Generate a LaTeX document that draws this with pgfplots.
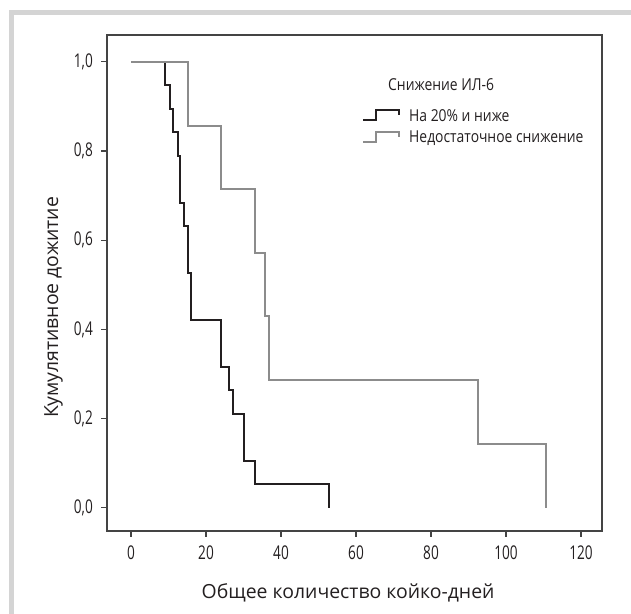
\documentclass[border=0pt]{standalone}
\usepackage{fontspec}
\setmainfont{Open Sans}
\newfontfamily\condfont{Open Sans}[FakeStretch=0.72]
\newfontfamily\legfont{Open Sans}[FakeStretch=0.845]
\usepackage{pgfplots}
\pgfplotsset{compat=1.18}
\definecolor{kmblack}{HTML}{231F20}
\definecolor{kmgray}{HTML}{8C8C8C}
\definecolor{axgray}{HTML}{444444}
\definecolor{framegray}{HTML}{D4D4D4}

\begin{document}
\begin{tikzpicture}
\useasboundingbox (0bp,0bp) rectangle (631bp,614bp);
% light frame on the left and top
\fill[framegray] (9bp,0bp) rectangle (14bp,604bp);
\fill[framegray] (9bp,599bp) rectangle (631bp,604bp);
\begin{axis}[
  at={(107bp,83bp)}, anchor=south west,
  scale only axis, width=495bp, height=496bp,
  xmin=-6.4, xmax=125.6, ymin=-0.052, ymax=1.06,
  xtick={0,20,40,60,80,100,120},
  ytick={0,0.2,0.4,0.6,0.8,1.0},
  axis line style={axgray, line width=1.2bp},
  tick style={axgray, line width=1.2bp},
  tick align=outside, tick pos=left,
  major tick length=6bp,
  /pgf/number format/.cd, fixed, fixed zerofill, precision=1, use comma, assume math mode=true,
  /pgfplots/.cd,
  xticklabel={\pgfmathprintnumber[fixed,precision=0,assume math mode=true]{\tick}},
  ticklabel style={font=\condfont\fontsize{19}{21}\selectfont, text=kmblack},
  xticklabel style={inner sep=0pt, yshift=-8.5bp},
  yticklabel style={inner sep=0pt, xshift=-8bp},
  xlabel={Общее количество койко-дней},
  ylabel={Кумулятивное дожитие},
  label style={font=\fontsize{19.5}{22}\selectfont, text=kmblack, inner sep=0pt},
  xlabel style={at={(axis description cs:0.487,0)}, anchor=base, yshift=-67bp},
  ylabel style={at={(axis description cs:0,0.4506)}, anchor=base, yshift=49bp},
  legend style={at={(rel axis cs:0.5152,0.853)}, anchor=north west,
    draw=none, fill=none, inner sep=0pt, row sep=6.5bp, column sep=8bp,
    font=\legfont\fontsize{16.5}{18}\selectfont, text=kmblack,
    nodes={inner sep=1bp}},
  legend cell align=left,
  legend image code/.code={
    \draw[#1] (0bp,-4bp) -- (13bp,-4bp) -- (13bp,6bp) -- (36bp,6bp) -- (36bp,1bp);
  },
]
\addplot[kmblack, line width=2bp, const plot] coordinates {
  (0,1) (9.1,0.947) (10.4,0.895) (11.3,0.842) (12.4,0.789) (13.1,0.684)
  (14.0,0.632) (15.1,0.526) (16.0,0.421) (24.0,0.316) (26.2,0.263)
  (27.3,0.211) (30.0,0.105) (33.1,0.053) (52.9,0)
};
\addlegendentry{На 20\% и ниже}
\addplot[kmgray, line width=2bp, const plot] coordinates {
  (0,1) (15.2,0.857) (23.9,0.714) (33.1,0.571) (35.7,0.429) (36.9,0.286)
  (92.6,0.143) (110.6,0)
};
\addlegendentry{Недостаточное снижение}
\node[anchor=base west, inner sep=0pt, text=kmblack,
  font=\legfont\fontsize{16.5}{18}\selectfont]
  at (rel axis cs:0.5677,0.889) {Снижение ИЛ-6};
\end{axis}
\end{tikzpicture}
\end{document}
